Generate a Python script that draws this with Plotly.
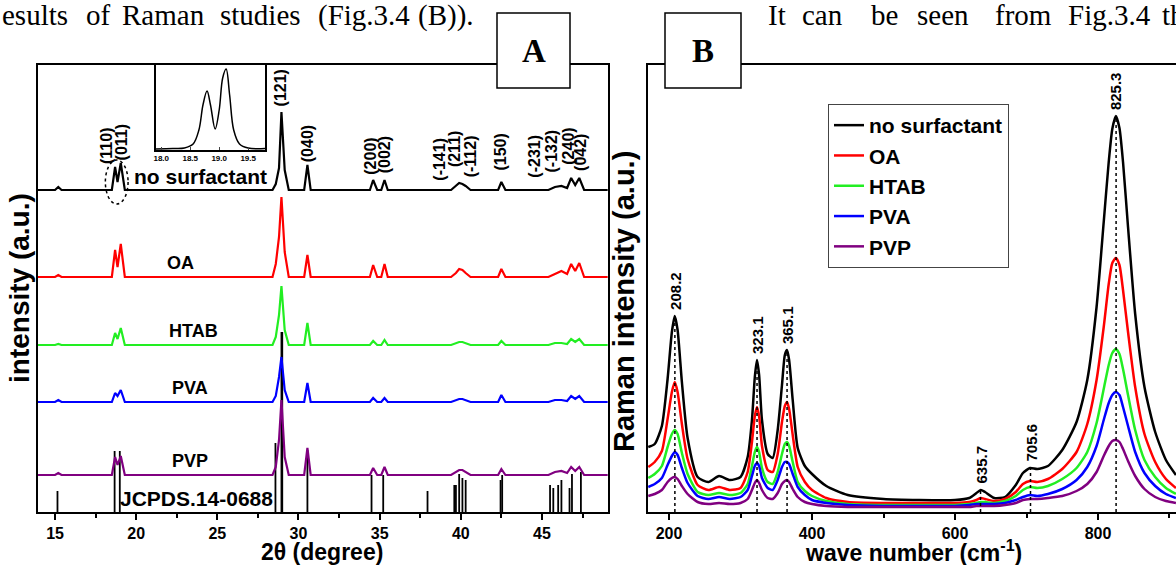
import plotly.graph_objects as go

W, H = 1176, 565


def fx(p):
    return p / W


def fy(p):
    return 1 - p / H


# ================= Panel A : XRD data =================
xrd_2theta = [13.95, 15.0, 15.2, 15.4, 18.5, 18.7, 18.85, 19.05, 19.3, 28.4, 28.6, 28.8, 28.95, 29.15, 29.4,
              30.35, 30.55, 30.75, 34.4, 34.6, 34.85, 35.1, 35.3, 35.5, 39.4, 39.7, 39.9, 40.1, 40.3, 40.6,
              42.3, 42.5, 42.75, 45.4, 45.8, 46.2, 46.55, 46.8, 47.05, 47.3, 47.6, 49.05]
xrd_no_surfactant = [0, 0, 3, 0, 0, 23, 8, 27, 0, 0, 6, 22, 78, 20, 0, 0, 25, 0, 0, 10, 0, 0, 10, 0,
                     0, 4, 7, 6, 4, 0, 0, 8, 0, 0, 3, 4, 2, 12, 5, 12, 0, 0]
xrd_oa = [0, 0, 2, 0, 0, 27, 10, 33, 0, 0, 13, 40, 80, 25, 0, 0, 22, 0, 0, 12, 0, 0, 13, 0,
          0, 4, 8, 7, 4, 0, 0, 8, 0, 0, 3, 6, 3, 13, 6, 14, 0, 0]
xrd_htab = [0, 0, 1, 0, 0, 12, 6, 17, 0, 0, 8, 30, 59, 15, 0, 0, 22, 0, 0, 4, 0, 0, 5, 0,
            0, 2, 3, 3, 2, 0, 0, 4, 0, 0, 2, 2, 1, 6, 3, 6, 0, 0]
xrd_pva = [0, 0, 2, 0, 0, 9, 6, 12, 0, 0, 6, 25, 45, 12, 0, 0, 19, 0, 0, 4, 0, 0, 4, 0,
           0, 2, 3, 3, 2, 0, 0, 7, 0, 0, 2, 2, 1, 6, 3, 6, 0, 0]
xrd_pvp = [0, 0, 2, 0, 0, 18, 10, 19, 0, 0, 8, 35, 75, 18, 0, 0, 27, 0, 0, 7, 0, 0, 8, 0,
           0, 3, 5, 5, 3, 0, 0, 6, 0, 0, 3, 4, 2, 8, 4, 8, 0, 0]
xrd_names = ["no surfactant", "OA", "HTAB", "PVA", "PVP"]
xrd_ticks = [15, 20, 25, 30, 35, 40, 45]
xrd_minor_ticks = [17.5, 22.5, 27.5, 32.5, 37.5, 42.5, 47.5]

jcpds_2theta = [15.15, 18.67, 18.99, 28.58, 28.95, 29.0, 30.55, 34.5, 35.22, 37.95, 39.6, 39.7,
                39.9, 40.1, 40.3, 42.45, 42.55, 45.5, 45.7, 46.0, 46.2, 46.7, 46.85, 47.4]
jcpds_intensity = [21, 61, 61, 69, 180, 180, 62, 37, 37, 21, 27, 27,
                   38, 34, 32, 32, 37, 27, 24, 27, 32, 24, 38, 40]
jcpds_label = "JCPDS.14-0688"

miller_labels = ["(110)", "(011)", "(121)", "(040)", "(200)", "(002)", "(-141)", "(211)", "(-112)",
                 "(150)", "(-231)", "(-132)", "(240)", "(042)"]
miller_2theta = [18.2, 19.15, 28.95, 30.6, 34.45, 35.35, 38.7, 39.65, 40.65, 42.45, 44.55, 45.65, 46.65, 47.4]

inset_2theta = [17.91, 18.2, 18.4, 18.55, 18.65, 18.72, 18.79, 18.85, 18.93, 19.0, 19.06, 19.12,
                19.18, 19.25, 19.35, 19.5, 19.79]
inset_intensity = [1, 1.5, 2, 6, 20, 45, 59, 45, 21, 40, 72, 81, 55, 20, 6, 2, 1.5]
inset_ticks = [18.0, 18.5, 19.0, 19.5]
inset_tick_text = ["18.0", "18.5", "19.0", "19.5"]

# ================= Panel B : Raman data =================
raman_wavenumber = [171, 180, 190, 198, 204, 208, 212, 218, 226, 240, 255, 270, 285, 300, 310,
                    316, 320, 323, 326, 330, 338, 345, 352, 358, 362, 365, 368, 373, 380, 390,
                    400, 420, 450, 500, 550, 600, 620, 630, 636, 642, 655, 670, 685, 695, 705,
                    715, 730, 750, 770, 785, 798, 808, 815, 820, 825, 830, 835, 842, 852, 865,
                    880, 895, 909]
raman_no_surfactant = [65, 68, 86, 133, 180, 196, 182, 130, 74, 35, 30, 36, 32, 35, 55,
                       92, 135, 152, 137, 92, 58, 54, 82, 127, 157, 162, 152, 112, 64, 46,
                       38, 26, 17, 13, 12, 12, 14, 19, 22, 20, 14, 15, 27, 39, 44,
                       43, 46, 62, 90, 132, 205, 290, 350, 383, 396, 384, 350, 285, 198, 125,
                       80, 52, 37]
raman_oa = [45, 50, 61, 93, 120, 130, 120, 88, 53, 27, 22, 25, 22, 24, 40,
            70, 96, 105, 96, 66, 42, 40, 58, 90, 106, 110, 103, 77, 45, 30,
            22, 14, 10, 9, 9, 9, 10, 12, 14, 13, 11, 13, 20, 28, 31,
            30, 33, 43, 60, 88, 132, 185, 228, 249, 254, 247, 222, 180, 125, 78,
            50, 33, 24]
raman_htab = [34, 38, 46, 65, 78, 82, 78, 59, 38, 20, 17, 19, 17, 19, 28,
              46, 60, 65, 60, 44, 30, 28, 40, 58, 68, 70, 66, 50, 30, 21,
              16, 11, 8, 7, 7, 7, 8, 9, 10, 10, 9, 11, 16, 22, 25,
              24, 26, 33, 44, 60, 89, 123, 147, 159, 163, 158, 143, 117, 82, 52,
              35, 24, 18]
raman_pva = [25, 28, 34, 47, 56, 60, 57, 44, 29, 16, 13, 15, 13, 15, 22,
             36, 46, 49, 46, 34, 24, 22, 32, 45, 50, 50, 48, 38, 25, 17,
             12, 9, 7, 6, 6, 6, 7, 8, 8, 8, 8, 9, 12, 15, 17,
             16, 18, 23, 32, 45, 66, 92, 109, 117, 120, 117, 105, 86, 60, 39,
             26, 18, 14]
raman_pvp = [16, 18, 22, 30, 34, 35, 33, 26, 18, 10, 8, 9, 8, 9, 13,
             22, 29, 32, 29, 22, 14, 13, 19, 28, 31, 32, 30, 23, 15, 10,
             8, 6, 5, 5, 5, 5, 5, 6, 6, 6, 6, 7, 9, 12, 13,
             13, 14, 16, 21, 28, 40, 56, 66, 71, 72, 70, 63, 51, 36, 23,
             15, 11, 9]
raman_names = ["no surfactant", "OA", "HTAB", "PVA", "PVP"]
raman_peaks = [208.2, 323.1, 365.1, 635.7, 705.6, 825.3]
raman_peak_labels = ["208.2", "323.1", "365.1", "635.7", "705.6", "825.3"]
raman_ticks = [200, 400, 600, 800]
raman_minor_ticks = [300, 500, 700, 900]

# ================= styles =================
colors = ["#000000", "#ff0000", "#22ee22", "#0000ff", "#800080"]
xrd_offsets = [322, 235, 167, 110, 37]   # vertical stacking (style)
SANS = "Liberation Sans"
SERIF = "Liberation Serif"
LW = 2.2


def bold(size):
    return dict(family=SANS, size=size, color="black", weight="bold")


fig = go.Figure()

# JCPDS sticks (reference pattern)
sx, sy = [], []
for t, v in zip(jcpds_2theta, jcpds_intensity):
    sx += [t, t, None]
    sy += [0, v, None]
fig.add_trace(go.Scatter(x=sx, y=sy, mode="lines", line=dict(color="black", width=1.8),
                         xaxis="x", yaxis="y", showlegend=False, hoverinfo="skip"))

xrd_series = [xrd_no_surfactant, xrd_oa, xrd_htab, xrd_pva, xrd_pvp]
for name, ys, c, off in zip(xrd_names, xrd_series, colors, xrd_offsets):
    fig.add_trace(go.Scatter(x=xrd_2theta, y=[v + off for v in ys], mode="lines", name=name,
                             line=dict(color=c, width=LW), xaxis="x", yaxis="y", showlegend=False))

# inset
fig.add_trace(go.Scatter(x=inset_2theta, y=inset_intensity, mode="lines",
                         line=dict(color="black", width=1.5, shape="spline"),
                         xaxis="x3", yaxis="y3", showlegend=False))

# Raman curves
raman_series = [raman_no_surfactant, raman_oa, raman_htab, raman_pva, raman_pvp]
for name, ys, c in zip(raman_names, raman_series, colors):
    fig.add_trace(go.Scatter(x=raman_wavenumber, y=ys, mode="lines", name=name,
                             line=dict(color=c, width=2.5, shape="spline", smoothing=0.6),
                             xaxis="x2", yaxis="y2", showlegend=True))


def nearest(xs, ys, x0):
    i = min(range(len(xs)), key=lambda k: abs(xs[k] - x0))
    return ys[i]


annotations = []
shapes = []
# dotted peak markers in B
for pk, lab in zip(raman_peaks, raman_peak_labels):
    top = nearest(raman_wavenumber, raman_no_surfactant, pk)
    shapes.append(dict(type="line", xref="x2", yref="y2", x0=pk, x1=pk, y0=0, y1=top,
                       line=dict(color="black", width=1.5, dash="dot"), layer="above"))
    annotations.append(dict(x=pk, y=top + 4, xref="x2", yref="y2", text=lab, showarrow=False,
                            textangle=-90, yanchor="bottom", xanchor="center", font=bold(15)))

# Miller index labels
miller_center_px = [146, 142, 88, 144, 156, 155, 159, 149, 156, 152, 156, 151, 146, 152]
for lab, t, cy in zip(miller_labels, miller_2theta, miller_center_px):
    annotations.append(dict(x=t, y=512 - cy, xref="x", yref="y", text=lab, showarrow=False,
                            xanchor="center", yanchor="middle", textangle=-90, font=bold(16)))

# sample labels in A
label_x = [None, 22.7, 23.5, 23.3, 23.3]
for name, off, lx in zip(xrd_names, xrd_offsets, label_x):
    if lx is None:
        continue
    annotations.append(dict(x=lx, y=off + 14, xref="x", yref="y", text=name, showarrow=False,
                            xanchor="center", yanchor="middle", font=bold(18)))
annotations.append(dict(x=fx(200), y=fy(177), xref="paper", yref="paper", text=xrd_names[0],
                        xanchor="center", yanchor="middle", showarrow=False, font=bold(21)))
annotations.append(dict(x=fx(196), y=fy(498), xref="paper", yref="paper", text=jcpds_label,
                        xanchor="center", yanchor="middle", showarrow=False, font=bold(21)))

# axis titles
annotations += [
    dict(x=fx(322), y=fy(552), xref="paper", yref="paper", text="2θ (degree)", showarrow=False,
         xanchor="center", yanchor="middle", font=bold(23)),
    dict(x=fx(913), y=fy(551), xref="paper", yref="paper", text="wave number (cm<sup>-1</sup>)",
         showarrow=False, xanchor="center", yanchor="middle", font=bold(23)),
    dict(x=fx(19), y=fy(288), xref="paper", yref="paper", text="intensity (a.u.)", showarrow=False,
         xanchor="center", yanchor="middle", textangle=-90, font=bold(28)),
    dict(x=fx(624), y=fy(302), xref="paper", yref="paper", text="Raman intensity (a.u.)", showarrow=False,
         xanchor="center", yanchor="middle", textangle=-90, font=bold(29)),
]

# document text around the figure (justified line fragments)
serif_font = dict(family=SERIF, size=29, color="black")
left_words = ["esults", "of", "Raman", "studies", "(Fig.3.4", "(B))."]
left_px = [0, 84, 120, 218, 316, 416]
right_words = ["It", "can", "be", "seen", "from", "Fig.3.4", "th"]
right_px = [766, 800, 869, 915, 993, 1066, 1160]
for wd, wx in zip(left_words + right_words, left_px + right_px):
    annotations.append(dict(x=fx(wx), y=fy(15), xref="paper", yref="paper", xanchor="left",
                            yanchor="middle", text=wd, showarrow=False, font=serif_font))

# panel boxes A / B
for letter, x0, x1 in [("A", 497, 570), ("B", 665, 741)]:
    shapes.append(dict(type="rect", xref="paper", yref="paper", x0=fx(x0), x1=fx(x1), y0=fy(88), y1=fy(13),
                       line=dict(color="black", width=1.5), fillcolor="white", layer="above"))
    annotations.append(dict(x=fx((x0 + x1) / 2), y=fy(51), xref="paper", yref="paper", text=letter,
                            xanchor="center", yanchor="middle", showarrow=False,
                            font=dict(family=SERIF, size=33, color="black", weight="bold")))

# dashed ellipse around (110)/(011)
shapes.append(dict(type="circle", xref="x", yref="y", x0=18.1, x1=19.5, y0=308, y1=352,
                   line=dict(color="black", width=1.5, dash="dot"), layer="above"))

axis_common = dict(showgrid=False, zeroline=False, linecolor="black", linewidth=2, color="black",
                   tickfont=bold(16))

fig.update_layout(
    width=W, height=H, autosize=False,
    margin=dict(l=0, r=0, t=0, b=0, autoexpand=False),
    paper_bgcolor="white", plot_bgcolor="white",
    showlegend=True,
    legend=dict(x=fx(828), y=fy(104), xanchor="left", yanchor="top",
                bordercolor="#444444", borderwidth=1, bgcolor="white",
                font=bold(21), tracegroupgap=0, itemwidth=30),
    xaxis=dict(domain=[fx(38), fx(608)], range=[13.95, 49.07], anchor="y", showline=True, mirror=True,
               tickmode="array", tickvals=xrd_ticks, ticks="outside", ticklen=6, tickwidth=1.5,
               ticklabelstandoff=0,
               minor=dict(tickmode="array", tickvals=xrd_minor_ticks, ticks="outside", ticklen=4, tickwidth=1.5),
               **axis_common),
    yaxis=dict(domain=[fy(512), fy(65)], range=[0, 447], anchor="x", showline=True, mirror=True,
               showticklabels=False, ticks="", **axis_common),
    xaxis2=dict(domain=[fx(648), 1.0], range=[170.6, 909.1], anchor="y2", showline=True, mirror=True,
                tickmode="array", tickvals=raman_ticks, ticks="outside", ticklen=6, tickwidth=1.5,
                ticklabelstandoff=0,
                minor=dict(tickmode="array", tickvals=raman_minor_ticks, ticks="outside", ticklen=4, tickwidth=1.5),
                **axis_common),
    yaxis2=dict(domain=[fy(512), fy(65)], range=[0, 447], anchor="x2", showline=True, mirror=False,
                showticklabels=False, ticks="", **axis_common),
    xaxis3=dict(domain=[fx(156), fx(265)], range=[17.91, 19.79], anchor="y3", showline=True, mirror=True,
                tickmode="array", tickvals=inset_ticks, ticktext=inset_tick_text, ticks="inside", ticklen=3,
                showgrid=False, zeroline=False, linecolor="black", linewidth=1.5,
                tickfont=bold(8)),
    yaxis3=dict(domain=[fy(150), fy(65)], range=[0, 85], anchor="x3", showline=True, mirror=True,
                showticklabels=False, ticks="", showgrid=False, zeroline=False, linecolor="black", linewidth=1.5),
    annotations=annotations,
    shapes=shapes,
)

fig.write_html("out.html",
               config={"displayModeBar": False},
               post_script="document.body.style.margin='0px';document.body.style.padding='0px';"
                           "document.documentElement.style.overflow='hidden';")
